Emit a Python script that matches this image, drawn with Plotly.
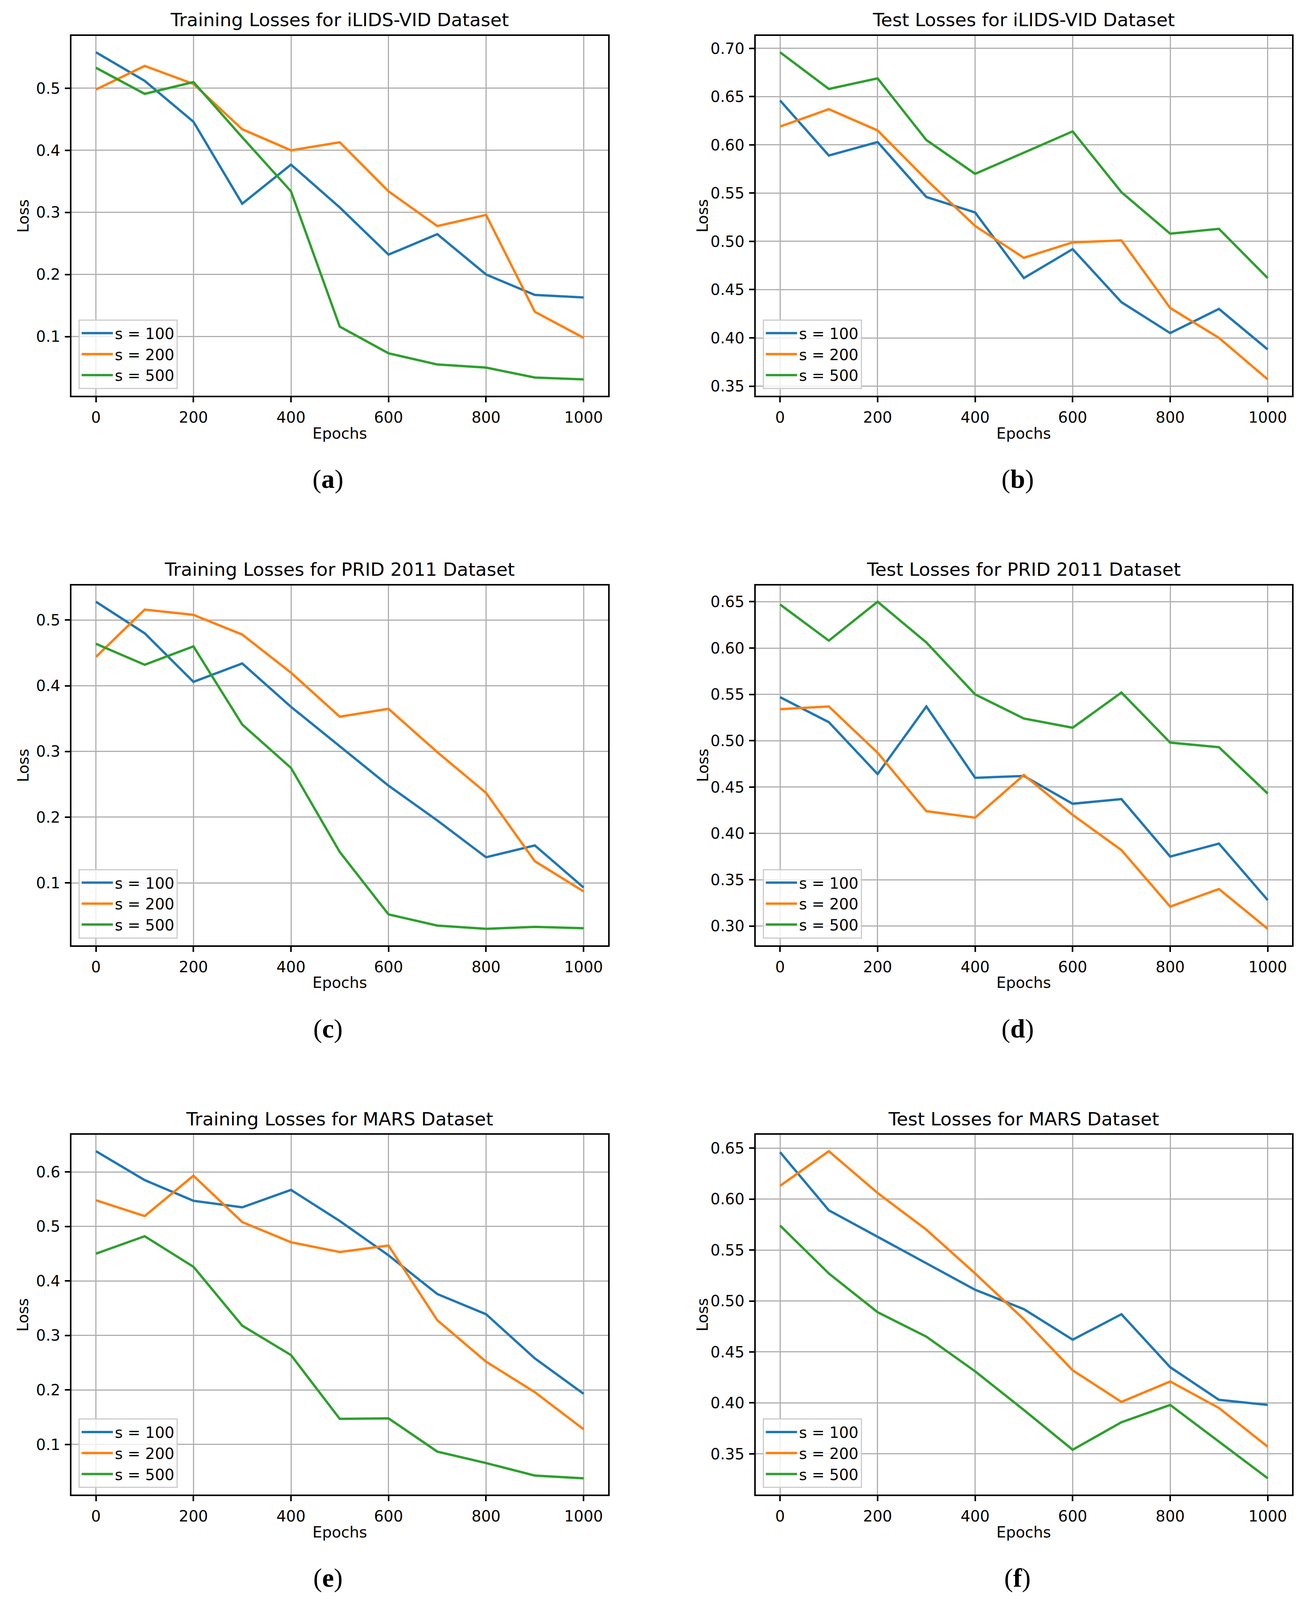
import plotly.graph_objects as go

# ---------------- data ----------------
epochs = [0, 100, 200, 300, 400, 500, 600, 700, 800, 900, 1000]
series_names = ["s = 100", "s = 200", "s = 500"]
colors = ["#1f77b4", "#ff7f0e", "#2ca02c"]

titles = [
    "Training Losses for iLIDS-VID Dataset",
    "Test Losses for iLIDS-VID Dataset",
    "Training Losses for PRID 2011 Dataset",
    "Test Losses for PRID 2011 Dataset",
    "Training Losses for MARS Dataset",
    "Test Losses for MARS Dataset",
]
captions = ["a", "b", "c", "d", "e", "f"]

a_s100 = [0.558, 0.512, 0.446, 0.314, 0.377, 0.308, 0.232, 0.265, 0.200, 0.167, 0.163]
a_s200 = [0.498, 0.536, 0.507, 0.434, 0.400, 0.413, 0.334, 0.278, 0.296, 0.140, 0.098]
a_s500 = [0.533, 0.491, 0.510, 0.421, 0.334, 0.116, 0.073, 0.055, 0.050, 0.034, 0.031]

b_s100 = [0.646, 0.589, 0.603, 0.546, 0.530, 0.462, 0.492, 0.437, 0.405, 0.430, 0.388]
b_s200 = [0.619, 0.637, 0.615, 0.564, 0.516, 0.483, 0.499, 0.501, 0.431, 0.400, 0.357]
b_s500 = [0.696, 0.658, 0.669, 0.605, 0.570, 0.592, 0.614, 0.551, 0.508, 0.513, 0.462]

c_s100 = [0.528, 0.480, 0.406, 0.434, 0.368, 0.308, 0.248, 0.195, 0.139, 0.157, 0.093]
c_s200 = [0.444, 0.516, 0.508, 0.478, 0.420, 0.353, 0.365, 0.299, 0.237, 0.133, 0.087]
c_s500 = [0.464, 0.432, 0.460, 0.341, 0.275, 0.147, 0.052, 0.035, 0.030, 0.033, 0.031]

d_s100 = [0.547, 0.520, 0.464, 0.537, 0.460, 0.462, 0.432, 0.437, 0.375, 0.389, 0.328]
d_s200 = [0.534, 0.537, 0.487, 0.424, 0.417, 0.463, 0.420, 0.382, 0.321, 0.340, 0.297]
d_s500 = [0.647, 0.608, 0.650, 0.606, 0.550, 0.524, 0.514, 0.552, 0.498, 0.493, 0.443]

e_s100 = [0.638, 0.585, 0.547, 0.535, 0.567, 0.510, 0.447, 0.376, 0.339, 0.258, 0.193]
e_s200 = [0.548, 0.519, 0.593, 0.508, 0.471, 0.453, 0.465, 0.328, 0.252, 0.196, 0.128]
e_s500 = [0.450, 0.482, 0.426, 0.318, 0.264, 0.147, 0.148, 0.087, 0.066, 0.043, 0.038]

f_s100 = [0.646, 0.589, 0.563, 0.537, 0.511, 0.492, 0.462, 0.487, 0.435, 0.403, 0.398]
f_s200 = [0.613, 0.647, 0.606, 0.570, 0.527, 0.482, 0.432, 0.401, 0.421, 0.395, 0.357]
f_s500 = [0.574, 0.527, 0.489, 0.465, 0.431, 0.393, 0.354, 0.381, 0.398, 0.362, 0.326]

x_ticks = [0, 200, 400, 600, 800, 1000]
y_ticks_a = [0.1, 0.2, 0.3, 0.4, 0.5]
y_ticks_b = [0.35, 0.40, 0.45, 0.50, 0.55, 0.60, 0.65, 0.70]
y_ticks_c = [0.1, 0.2, 0.3, 0.4, 0.5]
y_ticks_d = [0.30, 0.35, 0.40, 0.45, 0.50, 0.55, 0.60, 0.65]
y_ticks_e = [0.1, 0.2, 0.3, 0.4, 0.5, 0.6]
y_ticks_f = [0.35, 0.40, 0.45, 0.50, 0.55, 0.60, 0.65]

panels = [
    ([a_s100, a_s200, a_s500], y_ticks_a, ".1f"),
    ([b_s100, b_s200, b_s500], y_ticks_b, ".2f"),
    ([c_s100, c_s200, c_s500], y_ticks_c, ".1f"),
    ([d_s100, d_s200, d_s500], y_ticks_d, ".2f"),
    ([e_s100, e_s200, e_s500], y_ticks_e, ".1f"),
    ([f_s100, f_s200, f_s500], y_ticks_f, ".2f"),
]

# ---------------- layout geometry (reference pixels) ----------------
W, H = 3354, 4522
col_left = [176, 1936]
plot_w = 1380
row_top = [93, 1652, 3211]
plot_h = 1021
caption_dx = [836 - (176 + 690), 2610 - (1936 + 690)]   # caption centre vs. axes centre
caption_dy = 236                                        # caption centre below axes bottom
loss_dx = [52 - 176, 1800 - 1936]                       # "Loss" centre vs. axes left

def px(x):
    return x / W

def py(y):
    return 1 - y / H

FONT = "DejaVu Sans"
fig = go.Figure()
layout = dict(
    autosize=True,
    margin=dict(l=0, r=0, t=0, b=0, pad=0),
    paper_bgcolor="white", plot_bgcolor="white",
    font=dict(family=FONT, size=39, color="black"),
    showlegend=True,
    annotations=[],
)

for i, (vals, yt, fmt) in enumerate(panels):
    r, c = divmod(i, 2)
    k = i + 1
    xa = "xaxis" if k == 1 else f"xaxis{k}"
    ya = "yaxis" if k == 1 else f"yaxis{k}"
    xr = "x" if k == 1 else f"x{k}"
    yr = "y" if k == 1 else f"y{k}"
    lg = "legend" if k == 1 else f"legend{k}"
    left = col_left[c]
    top = row_top[r]
    bottom = top + plot_h

    allv = [v for s in vals for v in s]
    lo, hi = min(allv), max(allv)
    span = hi - lo

    axis_common = dict(
        showgrid=True, gridcolor="#b0b0b0", gridwidth=3,
        showline=True, linecolor="black", linewidth=4, mirror=True,
        ticks="outside", ticklen=13, tickwidth=4, tickcolor="black",
        tickfont=dict(family=FONT, size=39, color="black"),
        zeroline=False, fixedrange=True,
    )
    layout[xa] = dict(
        axis_common,
        domain=[px(left), px(left + plot_w)],
        range=[-50, 1050], tickvals=x_ticks, anchor=yr,
        ticklabelstandoff=5,
    )
    layout[ya] = dict(
        axis_common,
        domain=[py(bottom), py(top)],
        range=[lo - 0.05 * span, hi + 0.05 * span],
        tickvals=yt, tickformat=fmt, anchor=xr,
        ticklabelstandoff=4,
    )

    for j in range(3):
        fig.add_trace(go.Scatter(
            x=epochs, y=vals[j], mode="lines", name=series_names[j],
            line=dict(color=colors[j], width=6),
            xaxis=xr, yaxis=yr, legend=lg, showlegend=True,
        ))

    layout[lg] = dict(
        x=px(left + 18), y=py(bottom - 19), xanchor="left", yanchor="bottom",
        xref="paper", yref="paper",
        bgcolor="rgba(255,255,255,0.8)", bordercolor="#cccccc", borderwidth=3,
        font=dict(family=FONT, size=39, color="black"),
        itemwidth=80, tracegroupgap=0,
    )

    xd, yd = f"{xr} domain", f"{yr} domain"
    layout["annotations"] += [
        dict(text=titles[i], x=0.5, y=1, xref=xd, yref=yd, yshift=41,
             showarrow=False, xanchor="center", yanchor="middle",
             font=dict(family=FONT, size=47, color="black")),
        dict(text="Epochs", x=0.5, y=0, xref=xd, yref=yd, yshift=-96,
             showarrow=False, xanchor="center", yanchor="middle",
             font=dict(family=FONT, size=39, color="black")),
        dict(text="Loss", x=0, y=0.5, xref=xd, yref=yd, xshift=loss_dx[c],
             showarrow=False, xanchor="center", yanchor="middle", textangle=-90,
             font=dict(family=FONT, size=39, color="black")),
        dict(text=f"(<b>{captions[i]}</b>)", x=0.5, y=-caption_dy / plot_h,
             xref=xd, yref=yd, xshift=caption_dx[c],
             showarrow=False, xanchor="center", yanchor="middle",
             font=dict(family="Liberation Serif", size=68, color="black")),
    ]

fig.update_layout(**layout)
# size the figure to the browser window so that nothing is cut off
fig.write_html("out.html", default_width="100%", default_height="calc(100vh - 16px)")
